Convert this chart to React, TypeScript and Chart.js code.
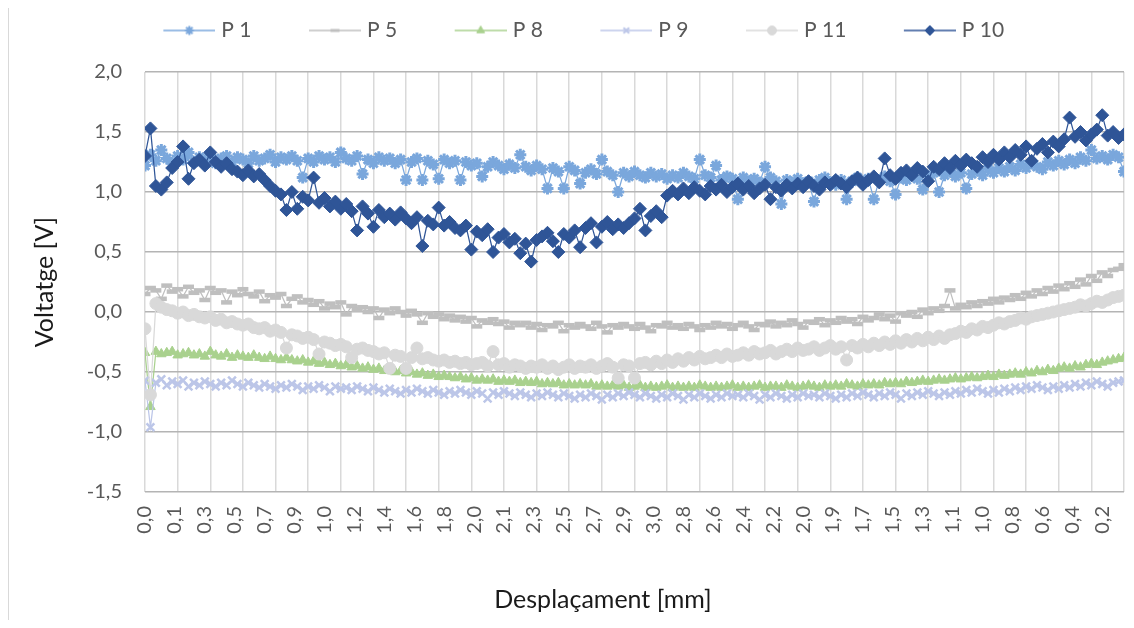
import React, { useEffect, useRef } from 'react';
import { Chart, registerables } from 'chart.js';
import { drawPoint } from 'chart.js/helpers';

Chart.register(...registerables);

// ---------- data ----------
const xTickLabels = [
  '0,0', '0,1', '0,3', '0,5', '0,7', '0,9', '1,0', '1,2', '1,4', '1,6', '1,8',
  '2,0', '2,1', '2,3', '2,5', '2,7', '2,9', '3,0', '2,8', '2,6', '2,4', '2,2',
  '2,0', '1,9', '1,7', '1,5', '1,3', '1,1', '1,0', '0,8', '0,6', '0,4', '0,2',
];

const SAMPLE_STEP = 2; // raw samples between two stored points
const LABEL_EVERY = 11; // raw samples between two tick labels
const GRID_EVERY = 12; // raw samples between two vertical gridlines
const X_MAX = 360;

const X_TITLE = 'Desplaçament [mm]';
const Y_TITLE = 'Voltatge [V]';

const seriesNames = ['P 1', 'P 5', 'P 8', 'P 9', 'P 11', 'P 10'];

const p1 = [
  1.22, 1.31, 1.26, 1.35, 1.28, 1.24, 1.30, 1.27, 1.33, 1.25,
  1.29, 1.26, 1.31, 1.24, 1.28, 1.30, 1.25, 1.29, 1.27, 1.24,
  1.30, 1.26, 1.28, 1.31, 1.25, 1.29, 1.27, 1.30, 1.26, 1.12,
  1.28, 1.25, 1.30, 1.27, 1.29, 1.25, 1.33, 1.28, 1.26, 1.30,
  1.15, 1.27, 1.24, 1.29, 1.26, 1.28, 1.24, 1.27, 1.10, 1.25,
  1.28, 1.10, 1.26, 1.23, 1.11, 1.27, 1.24, 1.26, 1.10, 1.25,
  1.22, 1.24, 1.13, 1.21, 1.25, 1.22, 1.19, 1.23, 1.20, 1.31,
  1.21, 1.18, 1.22, 1.19, 1.03, 1.20, 1.17, 1.03, 1.21, 1.18,
  1.07, 1.16, 1.19, 1.15, 1.27, 1.17, 1.14, 1.00, 1.16, 1.13,
  1.17, 1.14, 1.12, 1.16, 1.13, 1.15, 1.11, 1.14, 1.12, 1.16,
  1.13, 1.11, 1.27, 1.14, 1.12, 1.22, 1.10, 1.13, 1.11, 0.94,
  1.12, 1.09, 1.11, 1.08, 1.21, 1.12, 1.09, 0.90, 1.10, 1.08,
  1.11, 1.07, 1.09, 0.92, 1.10, 1.12, 1.08, 1.06, 1.10, 0.94,
  1.09, 1.12, 1.08, 1.11, 0.94, 1.10, 1.13, 1.09, 0.98, 1.12,
  1.10, 1.14, 1.11, 1.02, 1.13, 1.16, 1.00, 1.14, 1.17, 1.13,
  1.16, 1.03, 1.15, 1.18, 1.14, 1.19, 1.16, 1.20, 1.17, 1.21,
  1.18, 1.23, 1.20, 1.24, 1.21, 1.19, 1.25, 1.22, 1.26, 1.23,
  1.27, 1.24, 1.29, 1.26, 1.35, 1.28, 1.30, 1.27, 1.31, 1.29,
  1.17,
];

const p5 = [
  0.15, 0.20, 0.18, 0.11, 0.22, 0.17, 0.19, 0.13, 0.21, 0.16,
  0.18, 0.10, 0.20, 0.16, 0.18, 0.08, 0.17, 0.14, 0.19, 0.15,
  0.13, 0.17, 0.09, 0.14, 0.12, 0.15, 0.05, 0.11, 0.13, 0.08,
  0.10, 0.06, 0.09, 0.03, 0.07, 0.04, 0.08, -0.02, 0.05, 0.02,
  0.04, 0.00, 0.03, -0.05, 0.02, -0.01, 0.03, 0.00, -0.03, 0.01,
  -0.02, -0.09, -0.01, -0.04, -0.02, -0.06, -0.03, -0.07, -0.04, -0.08,
  -0.05, -0.12, -0.07, -0.09, -0.06, -0.10, -0.08, -0.13, -0.09, -0.11,
  -0.09, -0.13, -0.10, -0.15, -0.11, -0.12, -0.09, -0.16, -0.11, -0.13,
  -0.10, -0.12, -0.14, -0.09, -0.12, -0.17, -0.11, -0.13, -0.10, -0.12,
  -0.14, -0.10, -0.13, -0.16, -0.11, -0.12, -0.09, -0.13, -0.11, -0.14,
  -0.10, -0.12, -0.15, -0.11, -0.13, -0.09, -0.12, -0.10, -0.14, -0.11,
  -0.09, -0.12, -0.15, -0.10, -0.11, -0.08, -0.12, -0.09, -0.11, -0.07,
  -0.10, -0.13, -0.08, -0.09, -0.06, -0.11, -0.07, -0.09, -0.05, -0.08,
  -0.06, -0.10, -0.04, -0.07, -0.05, -0.02, -0.06, -0.03, -0.08, -0.01,
  -0.03, 0.00, -0.04, 0.02, -0.01, 0.03, 0.01, 0.05, 0.18, 0.03,
  0.06, 0.04, 0.08, 0.05, 0.09, 0.07, 0.11, 0.08, 0.12, 0.10,
  0.14, 0.11, 0.16, 0.13, 0.18, 0.15, 0.20, 0.17, 0.22, 0.19,
  0.24, 0.21, 0.27, 0.23, 0.30, 0.26, 0.33, 0.30, 0.35, 0.36,
  0.39,
];

const p8 = [
  -0.34, -0.79, -0.33, -0.35, -0.34, -0.33, -0.36, -0.35, -0.34, -0.36,
  -0.35, -0.37, -0.33, -0.36, -0.37, -0.35, -0.38, -0.36, -0.37, -0.38,
  -0.36, -0.38, -0.39, -0.37, -0.39, -0.40, -0.38, -0.40, -0.41, -0.40,
  -0.42, -0.41, -0.43, -0.42, -0.44, -0.43, -0.45, -0.44, -0.46, -0.45,
  -0.47, -0.46, -0.48, -0.47, -0.49, -0.48, -0.50, -0.49, -0.51, -0.50,
  -0.52, -0.51, -0.53, -0.52, -0.54, -0.53, -0.54, -0.55, -0.54, -0.56,
  -0.55, -0.57, -0.56, -0.57, -0.56, -0.58, -0.57, -0.58, -0.57, -0.59,
  -0.58, -0.59, -0.58, -0.60, -0.59, -0.60, -0.59, -0.61, -0.60, -0.61,
  -0.60, -0.61, -0.60, -0.62, -0.61, -0.62, -0.61, -0.62, -0.61, -0.63,
  -0.62, -0.61, -0.63, -0.62, -0.63, -0.62, -0.61, -0.63, -0.62, -0.63,
  -0.62, -0.63, -0.61, -0.62, -0.63, -0.62, -0.63, -0.62, -0.61, -0.63,
  -0.62, -0.63, -0.62, -0.61, -0.63, -0.62, -0.62, -0.63, -0.61, -0.62,
  -0.63, -0.62, -0.61, -0.62, -0.63, -0.61, -0.62, -0.61, -0.62, -0.60,
  -0.61, -0.62, -0.60, -0.61, -0.60, -0.61, -0.59, -0.60, -0.59, -0.60,
  -0.58, -0.59, -0.58, -0.57, -0.58, -0.57, -0.56, -0.57, -0.56, -0.55,
  -0.56, -0.55, -0.54, -0.55, -0.54, -0.53, -0.54, -0.52, -0.53, -0.52,
  -0.51, -0.52, -0.50, -0.51, -0.49, -0.50, -0.48, -0.49, -0.47, -0.46,
  -0.47, -0.45, -0.46, -0.44, -0.43, -0.44, -0.42, -0.41, -0.40, -0.39,
  -0.38,
];

const p9 = [
  -0.57, -0.96, -0.59, -0.56, -0.61, -0.58, -0.60, -0.57, -0.62, -0.59,
  -0.61, -0.58, -0.60, -0.62, -0.59, -0.61, -0.57, -0.60, -0.62, -0.59,
  -0.61, -0.63, -0.60, -0.62, -0.64, -0.61, -0.63, -0.60, -0.62, -0.65,
  -0.62, -0.64, -0.61, -0.63, -0.66, -0.62, -0.64, -0.63, -0.65, -0.62,
  -0.64, -0.66, -0.63, -0.65, -0.67, -0.64, -0.66, -0.68, -0.65, -0.67,
  -0.64, -0.66, -0.68, -0.65, -0.67, -0.69, -0.66, -0.68, -0.65, -0.67,
  -0.69, -0.66, -0.68, -0.72, -0.67, -0.69, -0.66, -0.68, -0.70, -0.67,
  -0.69, -0.71, -0.68, -0.70, -0.67, -0.69, -0.71, -0.68, -0.70, -0.72,
  -0.69, -0.71, -0.68, -0.70, -0.73, -0.69, -0.71, -0.68, -0.70, -0.67,
  -0.69, -0.71, -0.68, -0.70, -0.72, -0.69, -0.71, -0.68, -0.70, -0.73,
  -0.69, -0.71, -0.68, -0.70, -0.72, -0.69, -0.71, -0.68, -0.70, -0.69,
  -0.71, -0.68, -0.70, -0.73, -0.69, -0.71, -0.68, -0.70, -0.72, -0.69,
  -0.71, -0.68, -0.70, -0.69, -0.71, -0.68, -0.70, -0.72, -0.69, -0.71,
  -0.68, -0.70, -0.67, -0.69, -0.71, -0.68, -0.70, -0.67, -0.69, -0.72,
  -0.68, -0.70, -0.67, -0.69, -0.66, -0.68, -0.70, -0.67, -0.69, -0.66,
  -0.68, -0.65, -0.67, -0.64, -0.66, -0.68, -0.65, -0.67, -0.64, -0.66,
  -0.63, -0.65, -0.62, -0.64, -0.61, -0.63, -0.65, -0.62, -0.64, -0.61,
  -0.63, -0.60, -0.62, -0.59, -0.61, -0.58, -0.60, -0.62, -0.59, -0.58,
  -0.57,
];

const p11 = [
  -0.14, -0.69, 0.07, 0.04, 0.02, 0.01, -0.01, 0.00, -0.03, -0.02,
  -0.04, -0.05, -0.04, -0.07, -0.06, -0.09, -0.08, -0.10, -0.11, -0.10,
  -0.13, -0.14, -0.13, -0.16, -0.15, -0.17, -0.30, -0.19, -0.20, -0.22,
  -0.21, -0.23, -0.35, -0.25, -0.26, -0.28, -0.27, -0.29, -0.38, -0.31,
  -0.30, -0.32, -0.33, -0.35, -0.34, -0.47, -0.36, -0.37, -0.47, -0.38,
  -0.30, -0.39, -0.38, -0.40, -0.41, -0.40, -0.42, -0.41, -0.43, -0.42,
  -0.44, -0.43, -0.42, -0.45, -0.33, -0.44, -0.43, -0.46, -0.44, -0.45,
  -0.47, -0.45, -0.46, -0.44, -0.47, -0.45, -0.48, -0.46, -0.44, -0.47,
  -0.45, -0.46, -0.44, -0.47, -0.45, -0.43, -0.46, -0.55, -0.44, -0.45,
  -0.55, -0.43, -0.42, -0.44, -0.41, -0.43, -0.40, -0.42, -0.39, -0.41,
  -0.38, -0.40, -0.37, -0.39, -0.38, -0.36, -0.38, -0.35, -0.37, -0.36,
  -0.34, -0.36, -0.33, -0.35, -0.34, -0.32, -0.35, -0.33, -0.31, -0.33,
  -0.30, -0.32, -0.31, -0.29, -0.32, -0.30, -0.28, -0.31, -0.29, -0.40,
  -0.28, -0.30, -0.27, -0.29, -0.26, -0.28, -0.25, -0.27, -0.24, -0.26,
  -0.23, -0.25, -0.22, -0.24, -0.21, -0.23, -0.20, -0.22, -0.19, -0.18,
  -0.16, -0.17, -0.14, -0.15, -0.12, -0.13, -0.11, -0.09, -0.10, -0.08,
  -0.07, -0.05, -0.06, -0.04, -0.03, -0.02, -0.01, 0.00, 0.01, 0.02,
  0.03, 0.04, 0.06, 0.05, 0.07, 0.09, 0.08, 0.10, 0.12, 0.13,
  0.14,
];

const p10 = [
  1.30, 1.53, 1.05, 1.02, 1.08, 1.20, 1.25, 1.38, 1.11, 1.24,
  1.27, 1.22, 1.33, 1.25, 1.21, 1.24, 1.19, 1.17, 1.14, 1.18,
  1.13, 1.15, 1.10, 1.05, 1.01, 0.98, 0.85, 1.00, 0.86, 0.96,
  0.93, 1.12, 0.91, 0.95, 0.88, 0.92, 0.86, 0.90, 0.84, 0.68,
  0.88, 0.82, 0.71, 0.85, 0.79, 0.82, 0.77, 0.83, 0.78, 0.74,
  0.79, 0.55, 0.76, 0.73, 0.87, 0.72, 0.75, 0.70, 0.68, 0.72,
  0.52, 0.67, 0.64, 0.69, 0.50, 0.62, 0.65, 0.58, 0.61, 0.49,
  0.57, 0.42, 0.60, 0.63, 0.66, 0.59, 0.50, 0.65, 0.62, 0.68,
  0.54, 0.70, 0.74, 0.58, 0.71, 0.75, 0.69, 0.73, 0.70, 0.74,
  0.78, 0.86, 0.68, 0.80, 0.84, 0.79, 0.97, 1.01, 0.98, 1.03,
  0.99, 1.04, 1.01, 0.98, 1.05, 1.02, 1.06, 1.00, 1.04, 1.07,
  1.02, 1.05, 0.99, 1.03, 1.06, 0.94, 1.04, 1.01, 1.06, 1.03,
  1.07, 1.04, 1.09, 1.05, 1.02, 1.08, 1.06, 1.10, 1.07, 1.04,
  1.09, 1.12, 1.06, 1.10, 1.13, 1.08, 1.28, 1.14, 1.11, 1.16,
  1.18, 1.14, 1.20, 1.17, 1.09, 1.21, 1.19, 1.24, 1.20, 1.26,
  1.22, 1.27, 1.24, 1.21, 1.29, 1.25, 1.31, 1.27, 1.33, 1.29,
  1.35, 1.31, 1.38, 1.26, 1.36, 1.40, 1.33, 1.42, 1.38, 1.44,
  1.62, 1.46, 1.50, 1.43, 1.48, 1.52, 1.64, 1.47, 1.50, 1.45,
  1.48,
];

const seriesValues = [p1, p5, p8, p9, p11, p10];

const Y_MIN = -1.5;
const Y_MAX = 2.0;
const Y_STEP = 0.5;

// ---------- styles ----------
const seriesStyles = [
  { color: '#7aa7dc', pointStyle: 'star', radius: 6, border: 3, order: 6, legendR: 4.5, legendB: 2 },
  { color: '#bfbfbf', pointStyle: 'line', radius: 5.5, border: 4.5, order: 5, legendR: 4.5, legendB: 3 },
  { color: '#a9d18e', pointStyle: 'triangle', radius: 5.5, border: 1, order: 4, legendR: 4.5, legendB: 1 },
  { color: '#bcc6e8', pointStyle: 'crossRot', radius: 5.5, border: 2.5, order: 3, legendR: 4, legendB: 2 },
  { color: '#d9d9d9', pointStyle: 'circle', radius: 6, border: 1, order: 2, legendR: 4.5, legendB: 1 },
  { color: '#2f5597', pointStyle: 'rectRot', radius: 6.5, border: 1, order: 1, legendR: 5, legendB: 1 },
];

const FONT = 'Lato, "Open Sans", sans-serif';
const LEGEND_FONT = 21;
const LEGEND_BOX = 72;
const LEGEND_IMG_W = 81;
const LEGEND_IMG_H = 18;

function makeLegendImage(s: any): HTMLCanvasElement {
  const c = document.createElement('canvas');
  c.width = LEGEND_IMG_W;
  c.height = LEGEND_IMG_H;
  const ctx = c.getContext('2d') as CanvasRenderingContext2D;
  const cy = LEGEND_IMG_H / 2;
  ctx.strokeStyle = s.color;
  ctx.lineWidth = 1.5;
  ctx.beginPath();
  ctx.moveTo(LEGEND_IMG_W - 52, cy);
  ctx.lineTo(LEGEND_IMG_W, cy);
  ctx.stroke();
  ctx.fillStyle = s.color;
  ctx.strokeStyle = s.color;
  ctx.lineWidth = s.legendB;
  drawPoint(
    ctx,
    { pointStyle: s.pointStyle, rotation: 0, radius: s.legendR, borderWidth: s.legendB } as any,
    LEGEND_IMG_W - 26,
    cy,
  );
  return c;
}

// x-axis title, centred where the original puts it (left of the plot centre)
const xTitlePlugin = {
  id: 'xTitleText',
  afterDraw(chart: any) {
    const ctx = chart.ctx;
    ctx.save();
    ctx.font = `25px ${FONT}`;
    ctx.fillStyle = '#1a1a1a';
    ctx.textAlign = 'center';
    ctx.textBaseline = 'middle';
    ctx.fillText(X_TITLE, 594, chart.height - 28);
    ctx.restore();
  },
};

export default function App() {
  const canvasRef = useRef<HTMLCanvasElement | null>(null);

  useEffect(() => {
    document.body.style.overflow = 'hidden';
    Chart.defaults.font.family = FONT;
    const legendImages = seriesStyles.map(makeLegendImage);

    const datasets = seriesValues.map((vals, i) => {
      const s = seriesStyles[i];
      return {
        label: seriesNames[i],
        data: vals.map((y, j) => ({ x: j * SAMPLE_STEP, y })),
        borderColor: s.color,
        backgroundColor: s.color,
        borderWidth: 1.25,
        pointStyle: s.pointStyle,
        pointRadius: s.radius,
        pointBorderWidth: s.border,
        pointBackgroundColor: s.color,
        pointBorderColor: s.color,
        tension: 0,
        fill: false,
        order: s.order,
      };
    });

    const chart = new Chart(canvasRef.current as HTMLCanvasElement, {
      type: 'line',
      data: { datasets } as any,
      plugins: [xTitlePlugin],
      options: {
        animation: false,
        responsive: true,
        maintainAspectRatio: false,
        layout: { padding: 0 },
        plugins: {
          tooltip: { enabled: false },
          title: { display: false },
          legend: {
            display: true,
            position: 'top',
            labels: {
              usePointStyle: true,
              pointStyleWidth: LEGEND_BOX,
              padding: 33,
              color: '#595959',
              font: { size: LEGEND_FONT, family: FONT },
              sort: (a: any, b: any) => a.datasetIndex - b.datasetIndex,
              generateLabels: (ch: any) => {
                const items = (Chart.defaults.plugins.legend.labels as any).generateLabels(ch);
                items.forEach((it: any) => {
                  it.pointStyle = legendImages[it.datasetIndex];
                });
                return items;
              },
            },
          },
          // empty spacer between the legend and the plot area
          subtitle: {
            display: true,
            text: '',
            position: 'top',
            weight: 500,
            font: { size: 10, lineHeight: 1 },
            padding: { top: 0, bottom: 11 },
          },
        },
        scales: {
          x: {
            type: 'linear',
            min: 0,
            max: X_MAX,
            border: { display: false },
            grid: {
              drawTicks: false,
              lineWidth: 1.5,
              color: (ctx: any) =>
                ctx.tick && ctx.tick.value % GRID_EVERY === 0 ? '#d9d9d9' : 'rgba(0,0,0,0)',
            },
            afterBuildTicks: (scale: any) => {
              const vals = new Set<number>();
              for (let v = 0; v <= X_MAX; v += LABEL_EVERY) vals.add(v);
              for (let v = 0; v <= X_MAX; v += GRID_EVERY) vals.add(v);
              scale.ticks = Array.from(vals)
                .sort((a, b) => a - b)
                .map((value) => ({ value }));
            },
            afterFit: (scale: any) => {
              scale.height = 136;
              scale.paddingLeft = 0;
              scale.paddingRight = 7;
            },
            ticks: {
              autoSkip: false,
              minRotation: 90,
              maxRotation: 90,
              padding: 14,
              color: '#595959',
              font: { size: 20, family: FONT },
              callback: (value: any) =>
                value % LABEL_EVERY === 0 ? xTickLabels[value / LABEL_EVERY] ?? '' : '',
            },
            title: { display: false, text: X_TITLE },
          },
          y: {
            type: 'linear',
            min: Y_MIN,
            max: Y_MAX,
            border: { display: false },
            grid: { drawTicks: false, lineWidth: 1.5, color: '#b4b4b4' },
            afterFit: (scale: any) => {
              scale.width = 136;
              scale.paddingTop = 0;
              scale.paddingBottom = 0;
            },
            ticks: {
              stepSize: Y_STEP,
              padding: 23,
              color: '#595959',
              font: { size: 20, family: FONT },
              callback: (value: any) => Number(value).toFixed(1).replace('.', ','),
            },
            title: {
              display: true,
              text: Y_TITLE,
              color: '#1a1a1a',
              font: { size: 25, family: FONT },
              padding: { top: 21, bottom: 0 },
            },
          },
        },
      } as any,
    });

    return () => {
      chart.destroy();
    };
  }, []);

  return (
    <div
      style={{
        position: 'relative',
        width: 1126,
        height: 612,
        boxSizing: 'border-box',
        borderLeft: '1px solid #d9d9d9',
      }}
    >
      <div style={{ position: 'absolute', left: 0, top: -21, width: 1125, height: 641 }}>
        <canvas ref={canvasRef} />
      </div>
    </div>
  );
}
